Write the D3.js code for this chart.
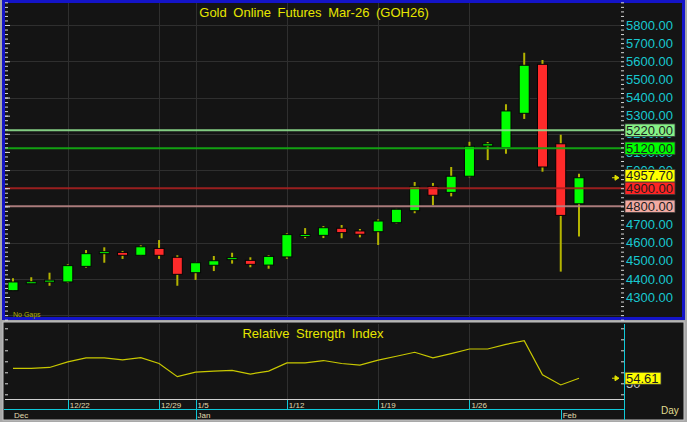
<!DOCTYPE html>
<html><head><meta charset="utf-8">
<script src="https://cdn.jsdelivr.net/npm/d3@7"></script>
<style>
body{margin:0;background:#a8a8a8;}
svg{display:block;font-family:"Liberation Sans",Arial,sans-serif;}
</style>
</head><body>
<svg id="c" width="687" height="422"></svg>
<script>
const title = "Gold Online Futures Mar-26 (GOH26)";
const dates = ["12/17","12/18","12/19","12/22","12/23","12/24","12/25","12/26","12/29","12/30",
  "1/5","1/6","1/7","1/8","1/9","1/12","1/13","1/14","1/15","1/16",
  "1/19","1/20","1/21","1/22","1/23","1/26","1/27","1/28","1/29","1/30","2/2","2/3"];
const open  = [4335,4376,4385,4383,4469,4541,4546,4530,4568,4519,4434,4475,4506,4502,4476,4521,4635,4640,4679,4664,4660,4710,4776,4910,4877,4966,5133,5123,5313,5583,5145,4814];
const high  = [4403,4409,4434,4480,4559,4574,4554,4585,4614,4530,4490,4526,4544,4519,4530,4651,4680,4691,4697,4675,4728,4786,4934,4929,5017,5156,5155,5363,5647,5607,5195,4980];
const low   = [4333,4375,4362,4379,4462,4489,4510,4529,4510,4362,4394,4443,4484,4464,4456,4511,4624,4625,4624,4629,4587,4706,4762,4806,4855,4960,5055,5090,5282,4991,4440,4633];
const close = [4383,4381,4390,4473,4539,4548,4530,4577,4530,4425,4489,4500,4517,4480,4524,4644,4644,4682,4655,4646,4719,4784,4910,4861,4966,5131,5145,5326,5578,5017,4750,4957.7];
const rsi   = [63.5,63.5,64.4,69.5,73.1,73.1,71.3,73.4,68.0,56.0,60.2,61.1,61.7,58.4,61.1,68.6,68.6,70.7,68.0,66.5,71.0,74.6,78.2,73.1,77.0,81.2,81.2,85.4,88.7,57.7,48.5,54.61];
const priceTicks = [4300,4400,4500,4600,4700,4800,4900,5000,5100,5200,5300,5400,5500,5600,5700,5800];
const gridPrices = [4200,4400,4600,4800,5000,5200,5400,5600,5800];
const levels = [5220,5120,4900,4800];
const levelLines = ["#8fe08f","#12b012","#a82020","#b88484"];
const levelFills = ["#86f286","#00ff00","#ff2424","#f2aaa2"];
const lastPrice = 4957.70;
const rsiTicks = [40,50,60,70,80,90,100];
const rsiLabelTicks = [50];
const weekTicks = ["12/22","12/29","1/5","1/12","1/19","1/26"];
const monthNames = ["Dec","Jan","Feb"];
const monthStarts = [null,"1/5","2/2"];

const svg = d3.select("#c");
const BG = "#141414";
const PL = 5, PR = 624;

// frames
svg.append("rect").attr("x",3.5).attr("y",1.5).attr("width",680).attr("height",317)
  .attr("fill",BG).attr("stroke","#1414c8").attr("stroke-width",3);
svg.append("rect").attr("x",3).attr("y",322).attr("width",681).attr("height",98)
  .attr("fill",BG).attr("stroke","#c4c4c4").attr("stroke-width",1);

const x = d3.scalePoint().domain(dates).range([13,579]);
const y = d3.scaleLinear().domain([4300,5800]).range([297,25]);
const yr = d3.scaleLinear().domain([50,100]).range([383.3,328.3]);

svg.append("clipPath").attr("id","mc").append("rect").attr("x",PL).attr("y",3).attr("width",PR-PL).attr("height",314);
const main = svg.append("g").attr("clip-path","url(#mc)");

const gridC = "#2f2f2f";
main.selectAll("line.hg").data(gridPrices).join("line")
  .attr("x1",PL).attr("x2",PR).attr("y1",d=>Math.round(y(d))+0.5).attr("y2",d=>Math.round(y(d))+0.5)
  .attr("stroke",gridC).attr("stroke-width",1);
main.selectAll("line.vg").data(weekTicks).join("line")
  .attr("x1",d=>Math.round(x(d))+0.5).attr("x2",d=>Math.round(x(d))+0.5).attr("y1",3).attr("y2",317)
  .attr("stroke",gridC).attr("stroke-width",1);

const candles = dates.map((d,i)=>({d,o:open[i],h:high[i],l:low[i],c:close[i]}));
main.selectAll("line.wick").data(candles).join("line")
  .attr("x1",d=>x(d.d)).attr("x2",d=>x(d.d)).attr("y1",d=>y(d.h)).attr("y2",d=>y(d.l))
  .attr("stroke","#b4b400").attr("stroke-width",2);
main.selectAll("rect.body").data(candles).join("rect")
  .attr("x",d=>x(d.d)-5).attr("width",10)
  .attr("y",d=>{const t=y(Math.max(d.o,d.c)),b=y(Math.min(d.o,d.c));return b-t<2?(t+b)/2-1:t;})
  .attr("height",d=>Math.max(2,y(Math.min(d.o,d.c))-y(Math.max(d.o,d.c))))
  .attr("fill",d=>d.c>=d.o?"#00ff00":"#ff2a2a").attr("stroke","#050505").attr("stroke-width",1);

main.selectAll("line.lvl").data(levels).join("line")
  .attr("x1",PL).attr("x2",PR).attr("y1",d=>y(d)).attr("y2",d=>y(d))
  .attr("stroke",(d,i)=>levelLines[i]).attr("stroke-width",2).attr("opacity",0.9);

svg.append("text").attr("x",314).attr("y",17).attr("text-anchor","middle")
  .attr("fill","#e6e600").attr("font-size",13).attr("word-spacing",3).text(title);
svg.append("text").attr("x",13).attr("y",317).attr("fill","#b0b000").attr("font-size",7).text("No Gaps");

// rulers (main)
const minor = d3.range(4175,5950,25);
svg.append("g").attr("transform",`translate(${PR},0)`)
  .call(d3.axisLeft(y).tickValues(minor).tickSize(3).tickFormat(""))
  .call(g=>{g.select(".domain").remove();g.selectAll("line").attr("stroke","#d8d8d8");});
svg.append("g").attr("transform",`translate(${PL},0)`)
  .call(d3.axisRight(y).tickValues(minor).tickSize(3).tickFormat(""))
  .call(g=>{g.select(".domain").remove();g.selectAll("line").attr("stroke","#d8d8d8");});
svg.append("g").attr("transform",`translate(${PL},0)`)
  .call(d3.axisRight(y).tickValues(priceTicks).tickSize(5).tickFormat(""))
  .call(g=>{g.select(".domain").remove();g.selectAll("line").attr("stroke","#d8d8d8");});

// price labels
svg.append("g").attr("transform",`translate(${PR},0)`)
  .call(d3.axisRight(y).tickValues(priceTicks).tickSize(0).tickPadding(2).tickFormat(d3.format(".2f")))
  .call(g=>{g.select(".domain").remove();
    g.selectAll("text").attr("fill","#18c8d0").attr("font-size",13).attr("font-family","Liberation Sans, Arial, sans-serif");});

// level boxes
const boxes = levels.map((v,i)=>({v,fill:levelFills[i]}));
boxes.push({v:lastPrice,fill:"#ffff00"});
boxes.sort((a,b)=>a.v-b.v);
const BH = 12.5;
let prevTop = 1e9;
boxes.forEach(b=>{let c=y(b.v); if(c+BH/2>prevTop) c=prevTop-BH/2; b.cy=c; prevTop=c-BH/2;});
const bg = svg.append("g");
bg.selectAll("rect").data(boxes).join("rect")
  .attr("x",625).attr("width",50).attr("y",d=>d.cy-BH/2).attr("height",BH)
  .attr("fill",d=>d.fill).attr("stroke","#3a3a3a").attr("stroke-width",0.8);
bg.selectAll("text").data(boxes).join("text")
  .attr("x",626).attr("y",d=>d.cy+4.6).attr("font-size",13).attr("fill","#1c1c1c")
  .text(d=>d3.format(".2f")(d.v));
svg.append("path").attr("d",()=>{const c=y(lastPrice);return `M612,${c}L617,${c}M615,${c-2.5}L619,${c}L615,${c+2.5}Z`;})
  .attr("stroke","#e0e000").attr("fill","#e0e000").attr("stroke-width",1);

// RSI panel
svg.selectAll("line.rvg").data(weekTicks).join("line")
  .attr("x1",d=>Math.round(x(d))+0.5).attr("x2",d=>Math.round(x(d))+0.5).attr("y1",324).attr("y2",399)
  .attr("stroke",gridC);
svg.append("text").attr("x",313).attr("y",338).attr("text-anchor","middle")
  .attr("fill","#e6e600").attr("font-size",13).attr("word-spacing",3).text("Relative Strength Index");
svg.append("path").datum(rsi)
  .attr("d",d3.line().x((d,i)=>x(dates[i])).y(d=>yr(d)))
  .attr("fill","none").attr("stroke","#c8c800").attr("stroke-width",1.2);
svg.append("g").attr("transform",`translate(${PR},0)`)
  .call(d3.axisLeft(yr).tickValues(rsiTicks).tickSize(3).tickFormat(""))
  .call(g=>{g.select(".domain").remove();g.selectAll("line").attr("stroke","#d8d8d8");});
svg.append("g").attr("transform",`translate(${PL},0)`)
  .call(d3.axisRight(yr).tickValues(rsiTicks).tickSize(3).tickFormat(""))
  .call(g=>{g.select(".domain").remove();g.selectAll("line").attr("stroke","#d8d8d8");});
svg.append("g").attr("transform",`translate(${PR},0)`)
  .call(d3.axisRight(yr).tickValues(rsiLabelTicks).tickSize(0).tickPadding(2).tickFormat(d3.format("d")))
  .call(g=>{g.select(".domain").remove();
    g.selectAll("text").attr("fill","#c8c8c8").attr("font-size",13).attr("font-family","Liberation Sans, Arial, sans-serif");});
const rl = rsi[rsi.length-1];
svg.append("rect").attr("x",625).attr("y",yr(rl)-6).attr("width",36).attr("height",12)
  .attr("fill","#ffff00").attr("stroke","#3a3a3a").attr("stroke-width",0.8);
svg.append("text").attr("x",626).attr("y",yr(rl)+4.6).attr("font-size",13).attr("fill","#1c1c1c").text(d3.format(".2f")(rl));
svg.append("path").attr("d",()=>{const c=yr(rl);return `M612,${c}L617,${c}M615,${c-2.5}L619,${c}L615,${c+2.5}Z`;})
  .attr("stroke","#e0e000").attr("fill","#e0e000").attr("stroke-width",1);

// date strip
const cyan = "#10c8d8";
svg.append("line").attr("x1",PL).attr("x2",PR).attr("y1",399.5).attr("y2",399.5).attr("stroke","#d0d0d0");
svg.append("line").attr("x1",4).attr("x2",PR).attr("y1",409.5).attr("y2",409.5).attr("stroke",cyan);
svg.append("line").attr("x1",PR+0.5).attr("x2",PR+0.5).attr("y1",324).attr("y2",420).attr("stroke",cyan);
svg.selectAll("line.wt").data(weekTicks).join("line")
  .attr("x1",d=>Math.round(x(d))+0.5).attr("x2",d=>Math.round(x(d))+0.5).attr("y1",400).attr("y2",409)
  .attr("stroke",cyan);
svg.selectAll("text.wt").data(weekTicks).join("text")
  .attr("x",d=>x(d)+2).attr("y",408).attr("font-size",8).attr("fill","#e0dcb0").text(d=>d);
const months = monthNames.map((m,i)=>({m,s:monthStarts[i]}));
svg.selectAll("line.mt").data(months.filter(d=>d.s)).join("line")
  .attr("x1",d=>Math.round(x(d.s))+0.5).attr("x2",d=>Math.round(x(d.s))+0.5).attr("y1",410).attr("y2",420)
  .attr("stroke",cyan);
svg.selectAll("text.mt").data(months).join("text")
  .attr("x",d=>d.s?x(d.s)+2:14).attr("y",418).attr("font-size",8).attr("fill","#e0dcb0").text(d=>d.m);
svg.append("text").attr("x",661).attr("y",414).attr("font-size",10).attr("fill","#e0dc90").text("Day");
</script>
</body></html>
